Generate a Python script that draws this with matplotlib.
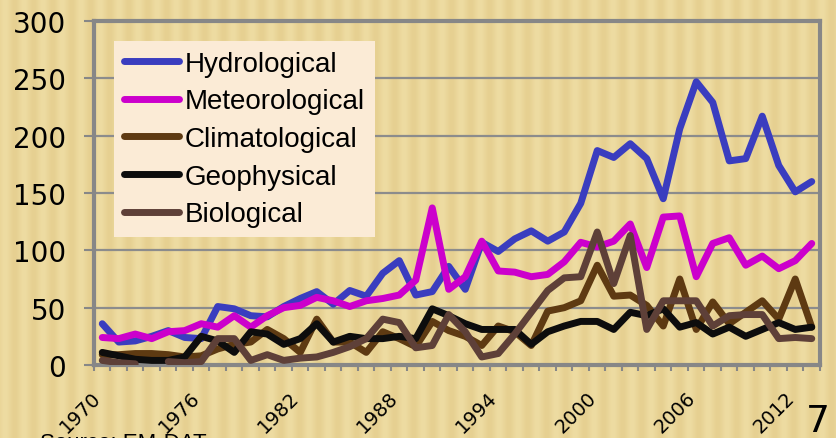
import matplotlib.pyplot as plt
import matplotlib.transforms as mtransforms
import numpy as np

nan = np.nan
years = list(range(1970, 2014))

hydro = [36, 20, 21, 25, 30, 24, 23, 51, 49, 43,
         42, 51, 58, 64, 53, 65, 60, 80, 91, 61,
         64, 86, 66, 107, 99, 110, 117, 108, 116, 141,
         187, 181, 193, 180, 145, 206, 247, 229, 178, 180,
         217, 174, 151, 160]
meteo = [24, 23, 27, 23, 29, 30, 36, 33, 43, 33,
         43, 50, 52, 59, 56, 51, 56, 58, 61, 74,
         137, 66, 77, 108, 82, 81, 77, 79, 90, 107,
         103, 108, 123, 85, 129, 130, 77, 106, 111, 87,
         95, 84, 91, 106]
clim = [9, 9, 10, 10, 9, 7, 8, 14, 18, 20,
        31, 23, 11, 40, 20, 20, 11, 29, 23, 16,
        38, 30, 25, 17, 34, 29, 17, 47, 50, 56,
        87, 60, 61, 52, 34, 75, 31, 55, 36, 46,
        56, 40, 75, 33]
geo = [11, 8, 5, 4, 4, 7, 25, 21, 11, 29,
       27, 18, 23, 36, 20, 25, 23, 23, 25, 23,
       49, 43, 36, 31, 31, 31, 18, 29, 34, 38,
       38, 31, 46, 43, 49, 33, 37, 27, 33, 25,
       31, 37, 31, 33]
bio = [4, 2, 1, nan, 3, 2, 3, 23, 23, 4,
       9, 4, 6, 7, 11, 16, 23, 40, 37, 15,
       17, 44, 29, 7, 10, 27, 46, 65, 76, 77,
       116, 71, 113, 31, 56, 56, 56, 34, 43, 44,
       44, 23, 24, 23]

names = ['Hydrological', 'Meteorological', 'Climatological', 'Geophysical', 'Biological']
colors = ['#3A3DBF', '#CC00CC', '#5E3A12', '#0D0D0D', '#5E4038']
label_years = list(range(1970, 2013, 6))

fig = plt.figure(figsize=(8.36, 4.39), dpi=100, facecolor='#E9D598')

# soft vertical stripes for the paper-like background
cols = np.arange(836)
shade = 0.5 + 0.5 * np.sin(cols * 2 * np.pi / 19.0)
base = np.array([230, 208, 145]) / 255.0
light = np.array([238, 220, 162]) / 255.0
row = base[None, :] + (light - base)[None, :] * shade[:, None]
bg = np.repeat(row[None, :, :], 439, axis=0)
bg_ax = fig.add_axes([0, 0, 1, 1], zorder=-1)
bg_ax.imshow(bg, aspect='auto', interpolation='bilinear')
bg_ax.axis('off')

ax = fig.add_axes([94/836, 1 - 366/439, (820 - 94)/836, (366 - 22)/439], zorder=1)
ax.set_facecolor('none')

for name, vals, c in zip(names, [hydro, meteo, clim, geo, bio], colors):
    ax.plot(years, vals, color=c, lw=5, label=name,
            solid_capstyle='round', solid_joinstyle='round', zorder=3)

ax.set_xlim(1969.5, 2013.5)
ax.set_ylim(0, 300)
ax.set_yticks(range(0, 301, 50))
ax.yaxis.grid(True, color='#8C8C8C', lw=1.6)
ax.set_axisbelow(True)
for s in ax.spines.values():
    s.set_color('#878787')
    s.set_linewidth(3)

ax.tick_params(axis='y', length=7, width=1.5, color='#878787', pad=13,
               labelsize=20, labelcolor='black')
ax.set_xticks(label_years)
ax.set_xticklabels([str(y) for y in label_years], rotation=45, ha='right',
                   va='center', rotation_mode='anchor')
ax.tick_params(axis='x', which='major', length=0, pad=21, labelsize=14)
ax.set_xticks(np.arange(1969.5, 2014, 1), minor=True)
ax.tick_params(axis='x', which='minor', length=4, width=1.5, color='#878787')
shift = mtransforms.ScaledTranslation(-4/100, 0, fig.dpi_scale_trans)
for lab in ax.get_xticklabels():
    lab.set_transform(lab.get_transform() + shift)

ax.legend(loc='upper left', bbox_to_anchor=(114/836, 1 - 42/439),
          bbox_transform=fig.transFigure, frameon=True, fancybox=False,
          facecolor='#FBEBD6', edgecolor='none', framealpha=1,
          borderaxespad=0, borderpad=0.35, handlelength=2.0,
          handletextpad=0.2, labelspacing=0.42,
          prop={'family': 'Liberation Sans', 'size': 20})

fig.text(818/836, 1 - 432/439, '7', fontsize=27, ha='center', va='baseline')
fig.text(40/836, 1 - 433/439, 'Source: EM-DAT', fontsize=16,
         family='Liberation Sans', ha='left', va='top')

fig.savefig('out.png', dpi=100, facecolor=fig.get_facecolor())
